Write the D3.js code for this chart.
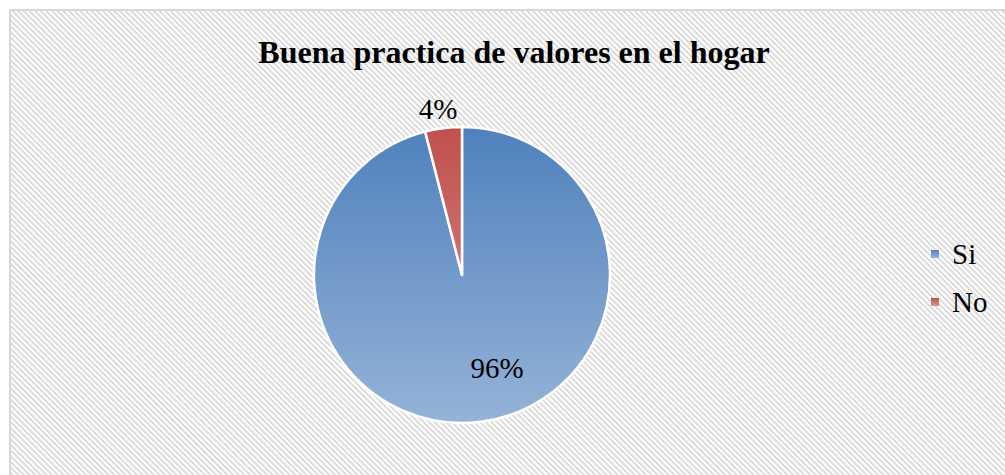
<!DOCTYPE html>
<html>
<head>
<meta charset="utf-8">
<script src="https://cdn.jsdelivr.net/npm/d3@7"></script>
<style>
  body { margin: 0; background: #fff; }
</style>
</head>
<body>
<div id="chart"></div>
<script>
const categories = ["Si", "No"];
const values = [96, 4];
const title = "Buena practica de valores en el hogar";

let width = 1005;
let height = 475;
let font = "'Liberation Serif'";

let colors = {
  Si: ["#4f81bd", "#95b3d7"],
  No: ["#c0504d", "#d99694"]
};

const svg = d3.select("#chart").append("svg")
  .attr("width", width)
  .attr("height", height);

const defs = svg.append("defs");

// fondo rayado
const pat = defs.append("pattern")
  .attr("id", "stripes")
  .attr("patternUnits", "userSpaceOnUse")
  .attr("width", 4)
  .attr("height", 4)
  .attr("patternTransform", "rotate(-45)");
pat.append("rect").attr("width", 4).attr("height", 4).attr("fill", "#fff");
pat.append("rect").attr("width", 2).attr("height", 4).attr("fill", "#dcdcdc");

svg.append("rect")
  .attr("x", 10).attr("y", 10)
  .attr("width", width).attr("height", height)
  .attr("fill", "url(#stripes)")
  .attr("stroke", "#d9d9d9")
  .attr("stroke-width", 2);

const data = categories.map((c, i) => ({ name: c, value: values[i] }));

let cx = 462, cy = 275, r = 148;

categories.forEach(c => {
  const g = defs.append("linearGradient")
    .attr("id", "grad-" + c)
    .attr("gradientUnits", "userSpaceOnUse")
    .attr("x1", 0).attr("y1", -r)
    .attr("x2", 0).attr("y2", r);
  g.append("stop").attr("offset", "0%").attr("stop-color", colors[c][0]);
  g.append("stop").attr("offset", "100%").attr("stop-color", colors[c][1]);

  const lg = defs.append("linearGradient")
    .attr("id", "lg-" + c)
    .attr("x1", 0).attr("y1", 0).attr("x2", 0).attr("y2", 1);
  lg.append("stop").attr("offset", "0%").attr("stop-color", colors[c][0]);
  lg.append("stop").attr("offset", "100%").attr("stop-color", colors[c][1]);
});

const pie = d3.pie().sort(null).value(d => d.value);
const arc = d3.arc().innerRadius(0).outerRadius(r);

const arcs = pie(data);

const g = svg.append("g").attr("transform", `translate(${cx},${cy})`);

g.selectAll("path")
  .data(arcs)
  .enter().append("path")
  .attr("d", arc)
  .attr("fill", d => `url(#grad-${d.data.name})`)
  .attr("stroke", "#fff")
  .attr("stroke-width", 2.5)
  .attr("stroke-linejoin", "round");

// etiquetas
const labelPos = {
  Si: [35, 103],
  No: [-24, -156]
};
g.selectAll("text.lbl")
  .data(arcs)
  .enter().append("text")
  .attr("class", "lbl")
  .attr("x", d => labelPos[d.data.name][0])
  .attr("y", d => labelPos[d.data.name][1])
  .attr("text-anchor", "middle")
  .style("font-family", font)
  .attr("font-size", 29)
  .attr("fill", "#000")
  .text(d => d.data.value + "%");

svg.append("text")
  .attr("x", 514)
  .attr("y", 63)
  .attr("text-anchor", "middle")
  .style("font-family", font)
  .attr("font-weight", "bold")
  .attr("font-size", 32)
  .attr("fill", "#000")
  .text(title);

// leyenda
const legend = svg.append("g")
  .selectAll("g")
  .data(categories)
  .enter().append("g")
  .attr("transform", (d, i) => `translate(931,${250 + i * 48})`);

legend.append("rect")
  .attr("width", 8).attr("height", 8)
  .attr("fill", d => `url(#lg-${d})`);

legend.append("text")
  .attr("x", 21).attr("y", 14)
  .style("font-family", font)
  .attr("font-size", 29)
  .attr("fill", "#000")
  .text(d => d);
</script>
</body>
</html>
